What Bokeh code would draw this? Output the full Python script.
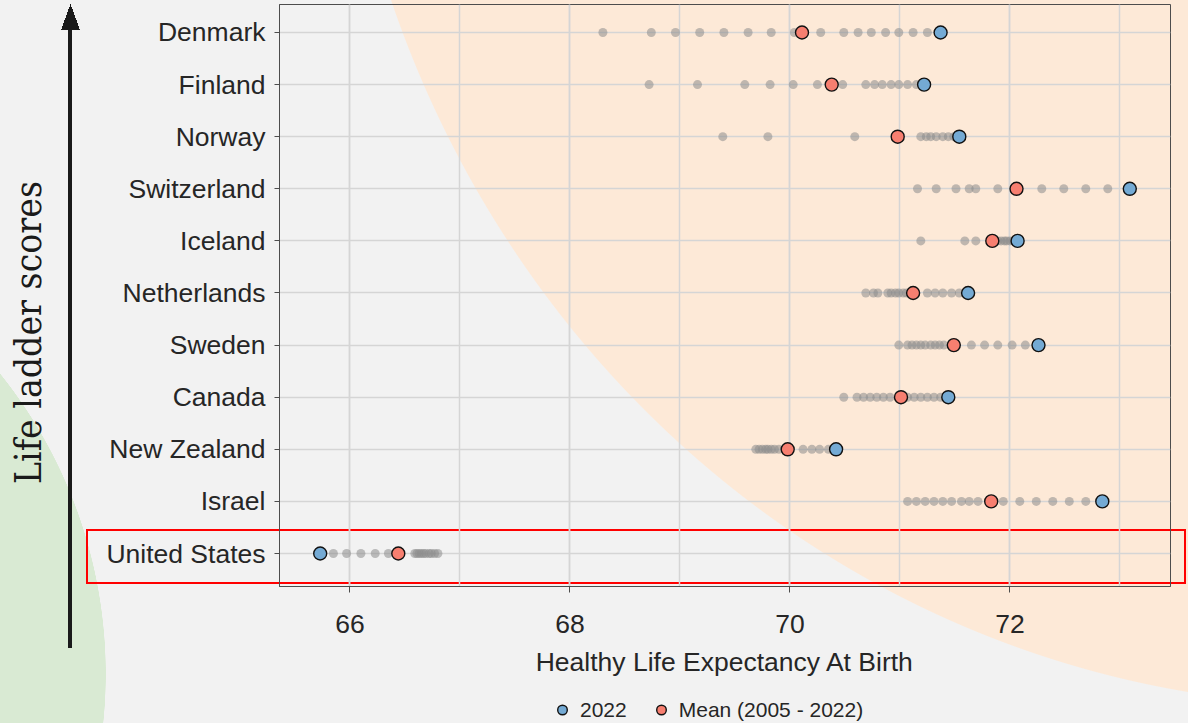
from bokeh.plotting import figure
from bokeh.layouts import column
from bokeh.models import Range1d, FixedTicker, SingleIntervalTicker, Legend, LegendItem
from bokeh.embed import file_html
from bokeh.resources import INLINE

# ---------------- data ----------------
countries = ["Denmark", "Finland", "Norway", "Switzerland", "Iceland", "Netherlands",
             "Sweden", "Canada", "New Zealand", "Israel", "United States"]

denmark_hist = [68.30, 68.74, 68.96, 69.18, 69.40, 69.62, 69.83, 70.04, 70.28, 70.49,
                70.62, 70.74, 70.87, 70.99, 71.12, 71.25]
finland_hist = [68.72, 69.16, 69.59, 69.82, 70.03, 70.25, 70.48, 70.69, 70.77, 70.84,
                70.92, 70.99, 71.07, 71.15]
norway_hist = [69.39, 69.80, 70.59, 71.19, 71.24, 71.28, 71.33, 71.39, 71.44, 71.49]
switzerland_hist = [71.16, 71.33, 71.51, 71.63, 71.69, 71.89, 72.29, 72.49, 72.69, 72.89]
iceland_hist = [71.19, 71.59, 71.69, 71.89, 71.92, 71.95, 71.97, 72.00, 72.03]
netherlands_hist = [70.69, 70.76, 70.80, 70.89, 70.92, 70.96, 70.99, 71.03, 71.06, 71.25,
                    71.32, 71.39, 71.47, 71.54]
sweden_hist = [70.99, 71.07, 71.11, 71.15, 71.19, 71.23, 71.28, 71.32, 71.36, 71.40,
               71.65, 71.77, 71.89, 72.02, 72.14]
canada_hist = [70.49, 70.61, 70.67, 70.73, 70.79, 70.85, 70.91, 71.07, 71.13, 71.19,
               71.25, 71.31, 71.37]
new_zealand_hist = [69.69, 69.72, 69.75, 69.78, 69.80, 69.83, 69.86, 69.90, 70.12, 70.20,
                    70.27, 70.35]
israel_hist = [71.07, 71.15, 71.23, 71.31, 71.39, 71.47, 71.56, 71.63, 71.71, 71.94,
               72.09, 72.24, 72.39, 72.54, 72.69]
united_states_hist = [65.85, 65.97, 66.10, 66.23, 66.35, 66.59, 66.61, 66.63, 66.65, 66.67,
                      66.69, 66.72, 66.74, 66.77, 66.80]

value_2022 = [71.37, 71.22, 71.54, 73.09, 72.07, 71.62, 72.26, 71.44, 70.42, 72.84, 65.73]
mean_2005_2022 = [70.11, 70.38, 70.98, 72.06, 71.84, 71.12, 71.49, 71.01, 69.98, 71.83, 66.44]

x_tick_labels = ["66", "68", "70", "72"]
legend_labels = ["2022", "Mean (2005 - 2022)"]

history = [denmark_hist, finland_hist, norway_hist, switzerland_hist, iceland_hist,
           netherlands_hist, sweden_hist, canada_hist, new_zealand_hist, israel_hist,
           united_states_hist]

# ---------------- styles ----------------
BLUE, RED, GRAY = "#74aad4", "#f77f70", "#8c8c8c"
EDGE = "#111111"
TXT = "#262626"

# page decoration drawn behind the (transparent) canvases:
# highlight box around "United States", the arrow, and the two coloured blobs
decor = ", ".join([
    "linear-gradient(#ff0000,#ff0000) 86px 529px / 1100px 2px no-repeat",
    "linear-gradient(#ff0000,#ff0000) 86px 582px / 1100px 2px no-repeat",
    "linear-gradient(#ff0000,#ff0000) 86px 529px / 2px 55px no-repeat",
    "linear-gradient(#ff0000,#ff0000) 1184px 529px / 2px 55px no-repeat",
    "linear-gradient(#1a1a1a,#1a1a1a) 68px 24px / 4px 624px no-repeat",
    "conic-gradient(from 160deg at 50% 0%, #1a1a1a 40deg, transparent 40deg) 61px 4px / 19px 26px no-repeat",
    "radial-gradient(ellipse 1017px 1056px at 1350px -350px, #fde9d7 99.9%, transparent 100%)",
    "radial-gradient(circle 480px at -374px 674px, #d9ead3 99.9%, transparent 100%)",
    "#f2f2f2",
])

# ---------------- main figure ----------------
n = len(countries)
ypos = [n - 1 - i for i in range(n)]

X0, X1 = 65.36, 73.46
Y0, Y1 = -0.633, 10.537

p = figure(frame_width=891, frame_height=582,
           x_range=Range1d(X0, X1), y_range=Range1d(Y0, Y1),
           output_backend="svg", toolbar_location=None,
           min_border_left=279, min_border_right=18, min_border_top=4, min_border_bottom=110,
           background_fill_alpha=0, border_fill_alpha=0, outline_line_color="#4d4d4d")

GRID = "#d5d5d5"
p.xaxis.ticker = SingleIntervalTicker(interval=2, num_minor_ticks=2)
p.xaxis.major_label_overrides = {int(s): s for s in x_tick_labels}
p.xgrid.grid_line_color = GRID
p.xgrid.grid_line_width = 1.5
p.xgrid.minor_grid_line_color = GRID
p.xgrid.minor_grid_line_width = 1.5
p.ygrid.grid_line_color = GRID
p.ygrid.grid_line_width = 1.5

p.yaxis.ticker = FixedTicker(ticks=ypos)
p.yaxis.major_label_overrides = {y: c for y, c in zip(ypos, countries)}

for ax in (p.xaxis[0], p.yaxis[0]):
    ax.major_label_text_font = "Liberation Sans"
    ax.major_label_text_font_size = "26.5px"
    ax.major_label_text_color = TXT
    ax.minor_tick_line_color = None
    ax.major_tick_in = 0
    ax.major_tick_line_color = "#4d4d4d"
    ax.axis_line_color = "#4d4d4d"

p.xaxis.major_tick_out = 6
p.xaxis.major_label_standoff = 22
p.xaxis.axis_label = "Healthy Life Expectancy At Birth"
p.xaxis.axis_label_text_font = "Liberation Sans"
p.xaxis.axis_label_text_font_size = "26.5px"
p.xaxis.axis_label_text_font_style = "normal"
p.xaxis.axis_label_text_color = TXT
p.xaxis.axis_label_standoff = 11

p.yaxis.major_tick_out = 5
p.yaxis.major_label_standoff = 9
p.yaxis.axis_label = "Life ladder scores" + "\u00a0" * 7
p.yaxis.axis_label_text_font = "DejaVu Serif Condensed, DejaVu Serif"
p.yaxis.axis_label_text_font_size = "37px"
p.yaxis.axis_label_text_font_style = "normal"
p.yaxis.axis_label_text_color = "#1a1a1a"
p.yaxis.axis_label_standoff = 53

hx, hy = [], []
for vals, y in zip(history, ypos):
    hx.extend(vals)
    hy.extend([y] * len(vals))
p.scatter(hx, hy, size=9, color=GRAY, alpha=0.55, line_color=None)
p.scatter(mean_2005_2022, ypos, size=13, fill_color=RED, line_color=EDGE, line_width=1.4)
p.scatter(value_2022, ypos, size=13, fill_color=BLUE, line_color=EDGE, line_width=1.4)

# ---------------- legend strip under the chart ----------------
# (its own ranges keep the copies of the points out of view; only the legend shows)
lg = figure(width=1188, height=27, x_range=Range1d(0, 1), y_range=Range1d(0, 1),
            x_axis_location=None, y_axis_location=None, toolbar_location=None,
            output_backend="svg", min_border=0, outline_line_color=None,
            background_fill_alpha=0, border_fill_alpha=0)
lg.grid.visible = False
k_2022 = lg.scatter(value_2022, ypos, size=13, fill_color=BLUE, line_color=EDGE, line_width=1.4)
k_mean = lg.scatter(mean_2005_2022, ypos, size=13, fill_color=RED, line_color=EDGE,
                    line_width=1.4)
legend = Legend(items=[LegendItem(label=legend_labels[0], renderers=[k_2022]),
                       LegendItem(label=legend_labels[1], renderers=[k_mean])],
                orientation="horizontal", location=(271, 0),
                label_text_font="Liberation Sans", label_text_font_size="21px",
                label_text_color=TXT, background_fill_alpha=0, border_line_color=None,
                glyph_width=24, glyph_height=27, label_height=27, spacing=22,
                margin=0, padding=0, label_standoff=6)
lg.add_layout(legend)

page = column(p, lg, spacing=0, styles={"background": decor})

open("out.html", "w").write(file_html(page, INLINE))
